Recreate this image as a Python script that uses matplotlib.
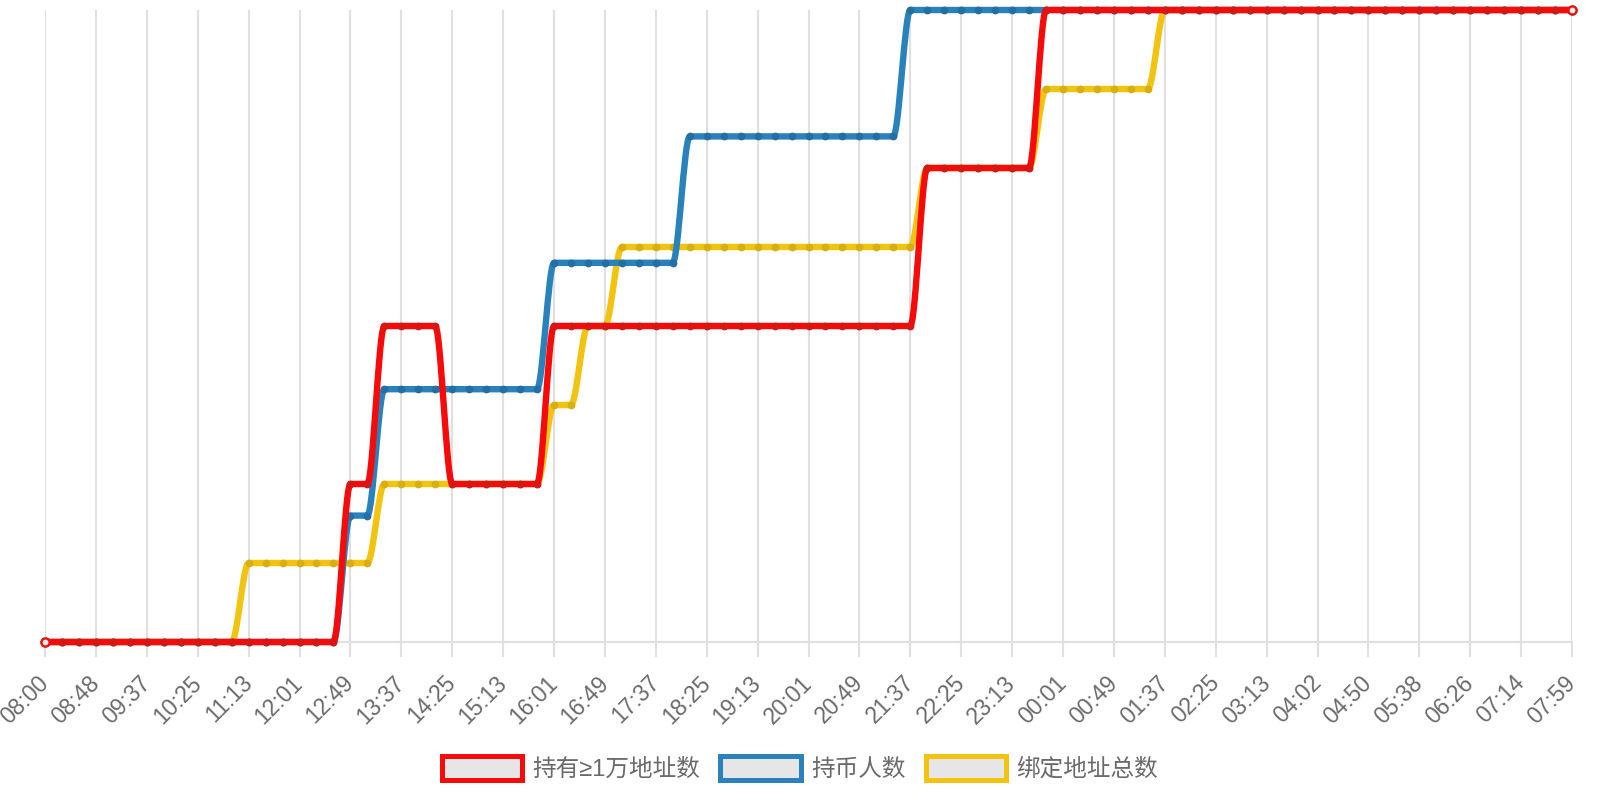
import numpy as np
import matplotlib
matplotlib.use("Agg")
import matplotlib.pyplot as plt
from matplotlib.patches import Patch

# one sample every ~16 min, a label on every third sample
TICK_LABELS = ["08:00", "08:48", "09:37", "10:25", "11:13", "12:01", "12:49", "13:37",
               "14:25", "15:13", "16:01", "16:49", "17:37", "18:25", "19:13", "20:01",
               "20:49", "21:37", "22:25", "23:13", "00:01", "00:49", "01:37", "02:25",
               "03:13", "04:02", "04:50", "05:38", "06:26", "07:14", "07:59"]

SERIES_NAMES = ["持有≥1万地址数", "持币人数", "绑定地址总数"]

holders_10k = [0, 0, 0, 0, 0, 0, 0, 0, 0, 0,
               0, 0, 0, 0, 0, 0, 0, 0, 1, 1,
               2, 2, 2, 2, 1, 1, 1, 1, 1, 1,
               2, 2, 2, 2, 2, 2, 2, 2, 2, 2,
               2, 2, 2, 2, 2, 2, 2, 2, 2, 2,
               2, 2, 3, 3, 3, 3, 3, 3, 3, 4,
               4, 4, 4, 4, 4, 4, 4, 4, 4, 4,
               4, 4, 4, 4, 4, 4, 4, 4, 4, 4,
               4, 4, 4, 4, 4, 4, 4, 4, 4, 4,
               4]

holders = [0, 0, 0, 0, 0, 0, 0, 0, 0, 0,
           0, 0, 0, 0, 0, 0, 0, 0, 1, 1,
           2, 2, 2, 2, 2, 2, 2, 2, 2, 2,
           3, 3, 3, 3, 3, 3, 3, 3, 4, 4,
           4, 4, 4, 4, 4, 4, 4, 4, 4, 4,
           4, 5, 5, 5, 5, 5, 5, 5, 5, 5,
           5, 5, 5, 5, 5, 5, 5, 5, 5, 5,
           5, 5, 5, 5, 5, 5, 5, 5, 5, 5,
           5, 5, 5, 5, 5, 5, 5, 5, 5, 5,
           5]

bound_total = [0, 0, 0, 0, 0, 0, 0, 0, 0, 0,
               0, 0, 1, 1, 1, 1, 1, 1, 1, 1,
               2, 2, 2, 2, 2, 2, 2, 2, 2, 2,
               3, 3, 4, 4, 5, 5, 5, 5, 5, 5,
               5, 5, 5, 5, 5, 5, 5, 5, 5, 5,
               5, 5, 6, 6, 6, 6, 6, 6, 6, 7,
               7, 7, 7, 7, 7, 7, 8, 8, 8, 8,
               8, 8, 8, 8, 8, 8, 8, 8, 8, 8,
               8, 8, 8, 8, 8, 8, 8, 8, 8, 8,
               8]

COLORS = ["#f60a0a", "#2a82bd", "#f2c40f"]
DOT_COLORS = ["#d81616", "#236ea2", "#d8af12"]


def smooth(x, y, n=16):
    """Monotone cubic (Fritsch-Carlson) curve through the samples"""
    x = np.asarray(x, float)
    y = np.asarray(y, float)
    h = np.diff(x)
    d = np.diff(y) / h
    m = np.zeros_like(y)
    m[0], m[-1] = d[0], d[-1]
    for i in range(1, len(y) - 1):
        if d[i - 1] * d[i] > 0:
            m[i] = 2.0 / (1.0 / d[i - 1] + 1.0 / d[i])
    xs, ys = [], []
    t = np.linspace(0, 1, n, endpoint=False)
    for i in range(len(y) - 1):
        h00 = 2 * t**3 - 3 * t**2 + 1
        h10 = t**3 - 2 * t**2 + t
        h01 = -2 * t**3 + 3 * t**2
        h11 = t**3 - t**2
        xs.append(x[i] + t * h[i])
        ys.append(h00 * y[i] + h10 * h[i] * m[i] + h01 * y[i + 1] + h11 * h[i] * m[i + 1])
    xs.append([x[-1]])
    ys.append([y[-1]])
    return np.concatenate(xs), np.concatenate(ys)


plt.rcParams['font.family'] = ['Liberation Sans', 'DejaVu Sans']

fig = plt.figure(figsize=(16, 8), dpi=100)
ax = fig.add_axes([45 / 1600, 1 - 642 / 800, 1527 / 1600, 632 / 800])
ax_blue = ax.twinx()
ax_red = ax.twinx()

x = np.arange(len(holders_10k))

# yellow on the base axes, red on the top-most one
series = [(ax, bound_total, 2), (ax_blue, holders, 1), (ax_red, holders_10k, 0)]
for a, vals, ci in series:
    sx, sy = smooth(x, vals)
    a.plot(sx, sy, color=COLORS[ci], lw=4.6, solid_capstyle='round', clip_on=False, zorder=2)
    a.plot(x[1:-1], vals[1:-1], 'o', ms=5.6, mfc=DOT_COLORS[ci], mec='none', clip_on=False, zorder=3)
    a.plot(x[[0, -1]], [vals[0], vals[-1]], 'o', ms=5.8, mfc='#eeeeee', mec=COLORS[ci],
           mew=1.6, clip_on=False, zorder=4)
    a.set_ylim(min(vals), max(vals))
    a.set_yticks([])
    for s in a.spines.values():
        s.set_visible(False)

ax.set_xlim(0, len(x) - 1)
ax.set_xticks(np.arange(0, len(x), 3))
ax.set_xticklabels(TICK_LABELS, rotation=45, ha='right', va='center',
                   rotation_mode='anchor', fontsize=16.5, color='#6a6a6a')
ax.tick_params(axis='x', length=11, width=1.5, color='#e0e0e0', pad=16)
ax.grid(axis='x', color='#e0e0e0', linewidth=1.5)
ax.set_axisbelow(True)
ax.spines['bottom'].set_visible(True)
ax.spines['bottom'].set_color('#e0e0e0')
ax.spines['bottom'].set_linewidth(1.5)

handles = [Patch(facecolor='#e6e6e6', edgecolor=c, linewidth=3.6) for c in COLORS]
fig.legend(handles, SERIES_NAMES, loc='center', bbox_to_anchor=(0.5, 0.04), ncol=3,
           frameon=False, handlelength=3.39, handleheight=1.19,
           handletextpad=0.45, columnspacing=0.85, labelcolor='#6a6a6a',
           prop={'family': ['Liberation Sans', 'Noto Sans CJK SC'], 'size': 17})

fig.savefig("out.png", dpi=100)
